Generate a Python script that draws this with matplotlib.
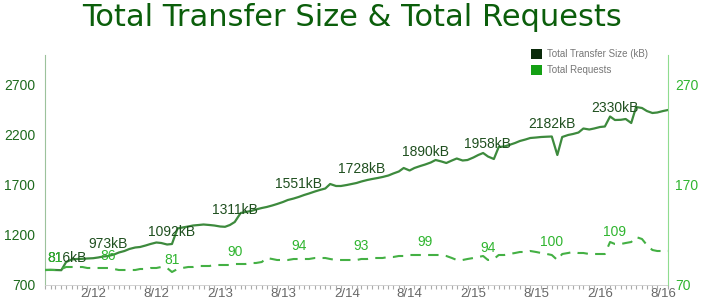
import numpy as np
import pandas as pd
import matplotlib
matplotlib.use('Agg')
import matplotlib.pyplot as plt
import matplotlib.dates as mdates
from matplotlib.patches import Patch

plt.rcParams['font.family'] = ['Liberation Sans', 'DejaVu Sans']

# semi-monthly samples, 2011-09-15 .. 2016-08-15
dates = pd.date_range('2011-09-15', '2016-08-15', freq='SMS')

transfer_kb = [
    850, 852, 850, 848, 930, 955, 960, 962, 965, 968,
    975, 985, 990, 1005, 1025, 1040, 1060, 1075, 1080, 1095,
    1110, 1125, 1120, 1105, 1110, 1265, 1275, 1285, 1295, 1300,
    1305, 1300, 1295, 1285, 1282, 1300, 1330, 1420, 1430, 1440,
    1455, 1470, 1480, 1495, 1510, 1530, 1550, 1565, 1580, 1600,
    1615, 1635, 1650, 1665, 1710, 1690, 1690, 1700, 1710, 1720,
    1735, 1750, 1760, 1770, 1780, 1795, 1815, 1835, 1870, 1845,
    1870, 1890, 1905, 1925, 1950, 1935, 1920, 1945, 1965, 1945,
    1950, 1975, 2000, 2020, 1985, 1960, 2080, 2085, 2100, 2120,
    2140, 2155, 2170, 2175, 2180, 2183, 2185, 2000, 2180, 2200,
    2210, 2225, 2265, 2255, 2265, 2280, 2285, 2385, 2350, 2352,
    2360, 2320, 2480, 2470, 2440, 2420, 2425, 2440, 2450,
]

requests = [
    85, 85, 85, 86, 88, 88, 88, 88, 87, 87,
    87, 87, 87, 86, 85, 85, 85, 85, 86, 86,
    87, 87, 88, 87, 83, 86, 87, 88, 88, 89,
    89, 89, 90, 90, 90, 90, 91, 91, 91, 92,
    92, 93, 97, 96, 95, 95, 95, 96, 96, 96,
    96, 97, 97, 97, 96, 95, 95, 95, 95, 95,
    96, 96, 97, 97, 97, 98, 98, 99, 99, 100,
    100, 100, 100, 100, 100, 100, 99, 97, 95, 95,
    96, 97, 98, 99, 95, 96, 100, 100, 101, 102,
    103, 103, 104, 103, 102, 101, 100, 95, 101, 102,
    103, 102, 102, 101, 101, 101, 101, 113, 111, 111,
    112, 113, 118, 116, 110, 105, 104, 104, 104,
]

# labels every 12 samples
label_idx = [0, 12, 24, 36, 48, 60, 72, 84, 96, 108]
transfer_labels = ['816kB', '973kB', '1092kB', '1311kB', '1551kB',
                   '1728kB', '1890kB', '1958kB', '2182kB', '2330kB']
request_labels = ['81', '86', '81', '90', '94', '93', '99', '94', '100', '109']

left_ticks = [700, 1200, 1700, 2200, 2700]
right_ticks = [70, 170, 270]
x_ticks = ['2012-02-01', '2012-08-01', '2013-02-01', '2013-08-01', '2014-02-01',
           '2014-08-01', '2015-02-01', '2015-08-01', '2016-02-01', '2016-08-01']

c_title = '#0b5e0b'
c_size = '#3d8a3d'
c_size_txt = '#1f4f1f'
c_req = '#44b044'
c_req_txt = '#2fb52f'

fig = plt.figure(figsize=(7.05, 3.01), dpi=100)
ax = fig.add_axes([45 / 705, 16 / 301, 623 / 705, 230 / 301])
ax2 = ax.twinx()

ax.plot(dates, transfer_kb, color=c_size, lw=1.6, zorder=3)
ax2.plot(dates, requests, color=c_req, lw=1.5, dashes=(5, 3.5))

for k, i in enumerate(label_idx):
    ha = 'left' if i == 0 else 'center'
    dx = 2 if i == 0 else 0
    ax.annotate(transfer_labels[k], (dates[i], transfer_kb[i]),
                xytext=(dx, 9), textcoords='offset points', ha=ha, va='center',
                fontsize=10, color=c_size_txt, zorder=4)
    ax2.annotate(request_labels[k], (dates[i], requests[i]),
                 xytext=(dx, 9), textcoords='offset points', ha=ha, va='center',
                 fontsize=10, color=c_req_txt)

ax.set_xlim(dates[0], dates[-1])
ax.set_ylim(700, 3000)
ax2.set_ylim(70, 300)
ax.set_yticks(left_ticks)
ax2.set_yticks(right_ticks)
ax.set_xticks(pd.to_datetime(x_ticks))
ax.xaxis.set_major_formatter(mdates.DateFormatter('%-m/%y'))
ax.set_xticks(dates, minor=True)

ax.tick_params(axis='y', length=0, pad=7, labelsize=10, labelcolor='#1d6a1d')
ax2.tick_params(axis='y', length=0, pad=5, labelsize=10, labelcolor='#2fb52f')
ax.tick_params(axis='x', which='major', length=0, pad=2, labelsize=9.5,
               labelcolor='#666666')
ax.tick_params(axis='x', which='minor', length=3, width=0.8, color='#aaaaaa')

for a in (ax, ax2):
    for side in ('top', 'left', 'right', 'bottom'):
        a.spines[side].set_visible(False)
ax.spines['left'].set_visible(True)
ax.spines['left'].set_color('#9cc29c')
ax2.spines['right'].set_visible(True)
ax2.spines['right'].set_color('#8fdc8f')
ax.spines['bottom'].set_visible(True)
ax.spines['bottom'].set_color('#cccccc')
ax.spines['bottom'].set_linewidth(0.6)

fig.text(0.5, 1 - 18 / 301, 'Total Transfer Size & Total Requests',
         ha='center', va='center', fontsize=22, color=c_title,
         family='DejaVu Sans')

handles = [Patch(facecolor='#0a2a0a', edgecolor='none', label='Total Transfer Size (kB)'),
           Patch(facecolor='#14a014', edgecolor='none', label='Total Requests')]
fig.legend(handles=handles, loc='upper left',
           bbox_to_anchor=(531 / 705, 1 - 49 / 301), frameon=False,
           fontsize=7, labelcolor='#777777', handlelength=1.1,
           handleheight=1.2, handletextpad=0.5, labelspacing=0.55,
           borderaxespad=0, borderpad=0)

fig.savefig('out.png', dpi=100)
